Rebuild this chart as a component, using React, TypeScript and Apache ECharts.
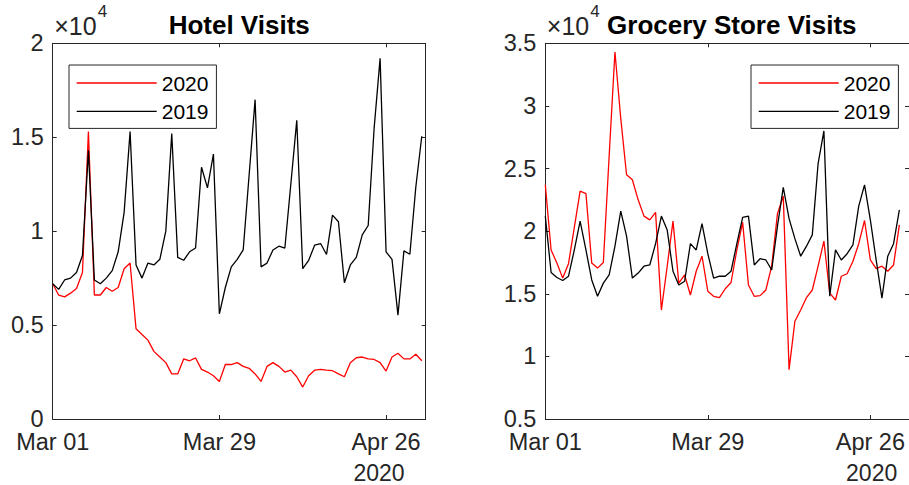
import React, { useEffect, useRef } from 'react';
import * as echarts from 'echarts';

// ---- data (values in units of 10^4 visits, one per day starting Mar 01) ----
const xTickDays = [0, 28, 56];
const xTickLabels = ['Mar 01', 'Mar 29', 'Apr 26'];
const yearLabel = '2020';
const seriesNames = ['2020', '2019'];
const titles = ['Hotel Visits', 'Grocery Store Visits'];
const scaleLabel = ['\u00d710', '4'];

const hotel2020 = [
  0.72, 0.66, 0.65, 0.67, 0.695, 0.78, 1.53, 0.66, 0.66, 0.70,
  0.68, 0.70, 0.80, 0.83, 0.48, 0.45, 0.42, 0.36, 0.33, 0.30,
  0.24, 0.24, 0.32, 0.31, 0.325, 0.264, 0.25, 0.23, 0.20, 0.29,
  0.29, 0.30, 0.28, 0.27, 0.24, 0.20, 0.28, 0.30, 0.28, 0.25,
  0.26, 0.225, 0.17, 0.23, 0.26, 0.264, 0.26, 0.257, 0.24, 0.225,
  0.30, 0.326, 0.33, 0.32, 0.317, 0.30, 0.255, 0.33, 0.35, 0.32,
  0.32, 0.345, 0.31,
];
const hotel2019 = [
  0.72, 0.69, 0.74, 0.75, 0.78, 0.87, 1.43, 0.74, 0.72, 0.75,
  0.79, 0.89, 1.10, 1.53, 0.82, 0.75, 0.83, 0.82, 0.85, 1.0,
  1.52, 0.86, 0.845, 0.89, 0.91, 1.34, 1.23, 1.41, 0.56, 0.70,
  0.81, 0.85, 0.90, 1.30, 1.70, 0.81, 0.83, 0.90, 0.92, 0.91,
  1.25, 1.59, 0.80, 0.845, 0.925, 0.934, 0.876, 1.085, 1.05, 0.725,
  0.82, 0.86, 0.98, 1.03, 1.55, 1.92, 0.89, 0.85, 0.553, 0.895,
  0.877, 1.235, 1.505,
];
const grocery2020 = [
  2.37, 1.85, 1.745, 1.625, 1.74, 2.03, 2.32, 2.30, 1.745, 1.705,
  1.75, 2.60, 3.43, 2.90, 2.45, 2.41, 2.25, 2.12, 2.09, 2.15,
  1.37, 1.72, 2.08, 1.585, 1.65, 1.49, 1.68, 1.80, 1.52, 1.48,
  1.47, 1.54, 1.59, 1.85, 2.07, 1.57, 1.48, 1.485, 1.53, 1.72,
  2.14, 2.28, 0.894, 1.28, 1.37, 1.47, 1.53, 1.72, 1.92, 1.505,
  1.45, 1.64, 1.66, 1.76, 1.90, 2.085, 1.77, 1.70, 1.72, 1.68,
  1.73, 2.05,
];
const grocery2019 = [
  2.12, 1.67, 1.63, 1.606, 1.64, 1.85, 2.08, 1.85, 1.61, 1.48,
  1.585, 1.65, 1.88, 2.16, 1.96, 1.625, 1.665, 1.72, 1.73, 1.90,
  2.12, 2.01, 1.68, 1.57, 1.60, 1.90, 1.85, 2.06, 1.82, 1.625,
  1.64, 1.64, 1.68, 1.90, 2.11, 2.12, 1.73, 1.78, 1.77, 1.69,
  2.04, 2.35, 2.10, 1.94, 1.80, 1.88, 1.97, 2.54, 2.80, 1.48,
  1.85, 1.77, 1.82, 1.89, 2.20, 2.37, 2.09, 1.77, 1.465, 1.80,
  1.90, 2.17,
];

// ---- styling / layout ----
const FONT = "'Liberation Sans', Arial, Helvetica, sans-serif";
const AX = '#262626';
const PLOT_TOP = 43.3;
const PLOT_H = 375.7;
const PLOT_W = 373;
const LEFTS = [52.7, 545.3];
const X_MAX = 62.66;
const X_PER_DAY = PLOT_W / X_MAX;

const toPts = (arr: number[]) => arr.map((v, i) => [i, v]);

function xFormatter(v: number) {
  const r = Math.round(v);
  if (Math.abs(v - r) > 1e-6) return '';
  const k = xTickDays.indexOf(r);
  return k >= 0 ? xTickLabels[k] : '';
}

function makeXAxis(gridIndex: number, position: 'top' | 'bottom') {
  return {
    type: 'value',
    gridIndex,
    position,
    min: 0,
    max: X_MAX,
    interval: 28,
    axisLine: { show: true, onZero: false, lineStyle: { color: AX, width: 1 } },
    axisTick: { show: true, inside: true, length: 4, lineStyle: { color: AX, width: 1 } },
    splitLine: { show: false },
    axisLabel: {
      show: position === 'bottom',
      formatter: xFormatter,
      fontSize: 23.5,
      fontFamily: FONT,
      color: AX,
      margin: 11,
      showMaxLabel: false,
    },
  };
}

function makeYAxis(gridIndex: number, position: 'left' | 'right', min: number, max: number) {
  return {
    type: 'value',
    gridIndex,
    position,
    min,
    max,
    interval: 0.5,
    axisLine: { show: true, onZero: false, lineStyle: { color: AX, width: 1 } },
    axisTick: { show: true, inside: true, length: 4, lineStyle: { color: AX, width: 1 } },
    splitLine: { show: false },
    axisLabel: {
      show: position === 'left',
      fontSize: 23.5,
      fontFamily: FONT,
      color: AX,
      margin: 9,
    },
  };
}

function lineSeries(name: string, data: number[], color: string, axisIdx: number) {
  return {
    type: 'line',
    name,
    data: toPts(data),
    xAxisIndex: axisIdx,
    yAxisIndex: axisIdx,
    symbol: 'none',
    showSymbol: false,
    lineStyle: { color, width: 1.3 },
    itemStyle: { color },
    clip: true,
  };
}

function makeLegend(left: number) {
  return {
    show: true,
    orient: 'vertical',
    left,
    top: 65,
    data: seriesNames,
    icon: 'rect',
    itemWidth: 80,
    itemHeight: 1.4,
    itemGap: 6.4,
    padding: [7, 8, 6, 7.7],
    borderColor: AX,
    borderWidth: 1,
    backgroundColor: '#ffffff',
    selectedMode: false,
    textStyle: { fontSize: 21, fontFamily: FONT, color: '#000', lineHeight: 22 },
  };
}

export default function App() {
  const ref = useRef<HTMLDivElement>(null);

  useEffect(() => {
    if (!ref.current) return;
    const chart = echarts.init(ref.current, undefined, { renderer: 'svg' });

    const graphics: any[] = [];
    LEFTS.forEach((left, i) => {
      graphics.push({
        type: 'text',
        x: left + PLOT_W / 2,
        y: 25,
        style: {
          text: titles[i],
          font: `bold 26px ${FONT}`,
          fill: '#000',
          align: 'center',
          verticalAlign: 'middle',
        },
      });
      graphics.push({
        type: 'text',
        x: left + 1.5,
        y: 26,
        style: {
          text: scaleLabel[0],
          font: `25px ${FONT}`,
          fill: AX,
          align: 'left',
          verticalAlign: 'middle',
        },
      });
      graphics.push({
        type: 'text',
        x: left + 45,
        y: 11,
        style: {
          text: scaleLabel[1],
          font: `17px ${FONT}`,
          fill: AX,
          align: 'left',
          verticalAlign: 'middle',
        },
      });
      graphics.push({
        type: 'text',
        x: left + xTickDays[2] * X_PER_DAY - 7,
        y: 472.5,
        style: {
          text: yearLabel,
          font: `23px ${FONT}`,
          fill: AX,
          align: 'center',
          verticalAlign: 'middle',
        },
      });
    });

    chart.setOption({
      animation: false,
      backgroundColor: '#ffffff',
      grid: LEFTS.map((left) => ({
        left,
        top: PLOT_TOP,
        width: PLOT_W,
        height: PLOT_H,
        containLabel: false,
      })),
      xAxis: [
        makeXAxis(0, 'bottom'),
        makeXAxis(0, 'top'),
        makeXAxis(1, 'bottom'),
        makeXAxis(1, 'top'),
      ],
      yAxis: [
        makeYAxis(0, 'left', 0, 2),
        makeYAxis(0, 'right', 0, 2),
        makeYAxis(1, 'left', 0.5, 3.5),
        makeYAxis(1, 'right', 0.5, 3.5),
      ],
      legend: [makeLegend(69), makeLegend(751)],
      series: [
        lineSeries(seriesNames[0], hotel2020, '#ff0000', 0),
        lineSeries(seriesNames[1], hotel2019, '#000000', 0),
        lineSeries(seriesNames[0], grocery2020, '#ff0000', 2),
        lineSeries(seriesNames[1], grocery2019, '#000000', 2),
      ],
      graphic: graphics,
    });

    return () => chart.dispose();
  }, []);

  return (
    <div
      ref={ref}
      style={{ position: 'absolute', left: 0, top: 0, width: 909, height: 485, background: '#fff' }}
    />
  );
}
